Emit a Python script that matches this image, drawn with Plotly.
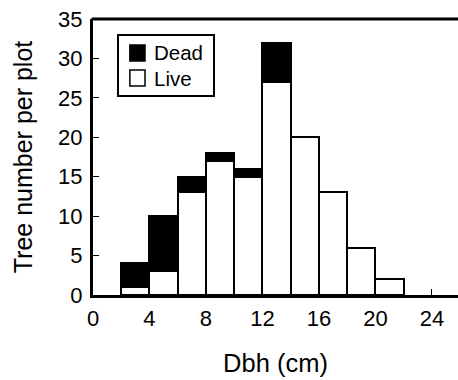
import plotly.graph_objects as go

bin_centers = [3, 5, 7, 9, 11, 13, 15, 17, 19, 21]
live = [1, 3, 13, 17, 15, 27, 20, 13, 6, 2]
dead = [3, 7, 2, 1, 1, 5, 0, 0, 0, 0]
legend_labels = ["Dead", "Live"]

FONT = "Liberation Sans, Arial, sans-serif"

fig = go.Figure()
fig.add_trace(go.Bar(x=bin_centers, y=live, width=2, name="Live",
                     marker=dict(color="white", line=dict(color="black", width=2))))
fig.add_trace(go.Bar(x=bin_centers, y=dead, width=2, name="Dead",
                     marker=dict(color="black", line=dict(color="black", width=2))))

fig.update_layout(
    barmode="stack",
    width=458, height=380,
    margin=dict(l=93, r=0, t=19, b=85),
    paper_bgcolor="white", plot_bgcolor="white",
    font=dict(family=FONT, color="black", size=22),
    showlegend=False,
    xaxis=dict(range=[0, 25.85], tickmode="linear", tick0=0, dtick=4,
               ticks="inside", ticklen=6, tickwidth=1, tickcolor="black",
               showline=True, linecolor="black", linewidth=3, mirror=False,
               showgrid=False, zeroline=False, ticklabelstandoff=2,
               title=dict(text="Dbh (cm)", font=dict(size=25.5), standoff=24),
               tickfont=dict(size=22)),
    yaxis=dict(range=[0, 35], tickmode="linear", tick0=0, dtick=5,
               ticks="inside", ticklen=6, tickwidth=1, tickcolor="black",
               showline=True, linecolor="black", linewidth=3, mirror=False,
               showgrid=False, zeroline=False, ticklabelstandoff=3,
               title=dict(text="Tree number per plot", font=dict(size=25), standoff=19),
               tickfont=dict(size=22)),
)
fig.add_shape(type="line", xref="paper", yref="paper", x0=-0.004, x1=1, y0=1, y1=1,
              line=dict(color="black", width=3))

# custom legend
fig.add_shape(type="rect", xref="paper", yref="paper", x0=0.0685, x1=0.3315,
              y0=0.721, y1=0.942, line=dict(color="black", width=2), fillcolor="white")
fig.add_shape(type="rect", xref="paper", yref="paper", x0=0.101, x1=0.1425,
              y0=0.848, y1=0.906, line=dict(color="black", width=1.5), fillcolor="black")
fig.add_shape(type="rect", xref="paper", yref="paper", x0=0.101, x1=0.1425,
              y0=0.757, y1=0.815, line=dict(color="black", width=1.5), fillcolor="white")
for lab, yy in zip(legend_labels, [0.877, 0.786]):
    fig.add_annotation(text=lab, xref="paper", yref="paper", x=0.1616, y=yy,
                       xanchor="left", yanchor="middle", showarrow=False,
                       font=dict(size=20.5, family=FONT, color="black"))

fig.write_html("out.html")
